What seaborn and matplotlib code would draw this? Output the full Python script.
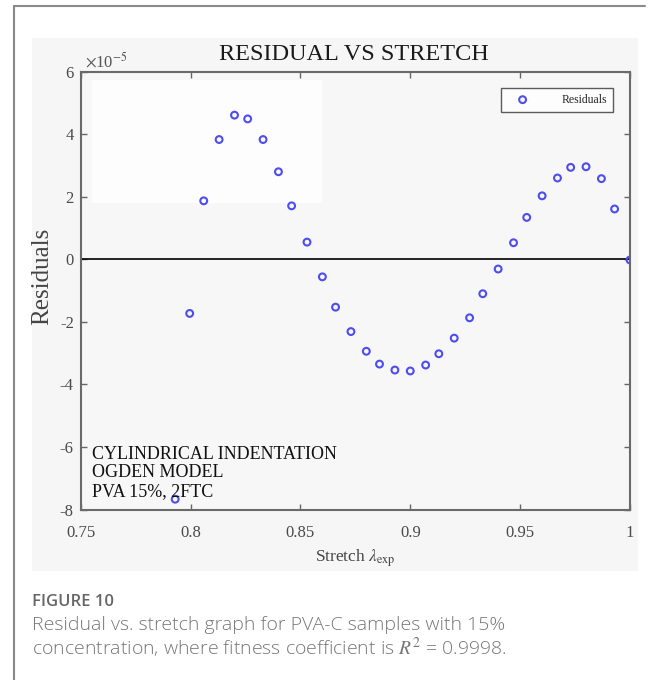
import numpy as np
import pandas as pd
import matplotlib
matplotlib.use("Agg")
import matplotlib.pyplot as plt
import seaborn as sns
from matplotlib.patches import Rectangle
from matplotlib.lines import Line2D
from matplotlib.ticker import FuncFormatter

# stretch values (lambda_exp) and residuals (in units of 1e-5)
stretch = [0.793, 0.7996, 0.806, 0.813, 0.820, 0.826, 0.833, 0.840, 0.846, 0.853,
           0.860, 0.866, 0.873, 0.880, 0.886, 0.893, 0.900, 0.907, 0.913, 0.920,
           0.927, 0.933, 0.940, 0.947, 0.953, 0.960, 0.967, 0.973, 0.980, 0.987,
           0.993, 1.000]
residual_e5 = [-7.67, -1.73, 1.87, 3.83, 4.61, 4.49, 3.83, 2.80, 1.71, 0.55,
               -0.56, -1.53, -2.31, -2.94, -3.35, -3.54, -3.57, -3.38, -3.02, -2.52,
               -1.87, -1.10, -0.31, 0.53, 1.34, 2.03, 2.60, 2.94, 2.96, 2.58,
               1.61, -0.02]
x_ticks = [0.75, 0.8, 0.85, 0.9, 0.95, 1.0]
y_ticks_e5 = [-8, -6, -4, -2, 0, 2, 4, 6]
note_lines = ["CYLINDRICAL INDENTATION", "OGDEN MODEL", "PVA 15%, 2FTC"]

df = pd.DataFrame({"stretch": stretch, "residual": np.array(residual_e5) * 1e-5})

sns.set_style("ticks")
plt.rcParams["font.family"] = ["Liberation Serif", "DejaVu Serif"]
plt.rcParams["mathtext.fontset"] = "stix"
plt.rcParams["axes.unicode_minus"] = False

fig = plt.figure(figsize=(6.55, 6.8), dpi=100, facecolor="white")

# page frame (left + top rule) and grey image background
fig.add_artist(Line2D([0.0214, 0.0214], [0.0, 0.991], transform=fig.transFigure,
                      color="#8a8a8a", lw=1.5))
fig.add_artist(Line2D([0.0214, 0.985], [0.991, 0.991], transform=fig.transFigure,
                      color="#8a8a8a", lw=1.5))
fig.patches.append(Rectangle((0.0489, 0.1603), 0.925, 0.784, transform=fig.transFigure,
                             facecolor="#f6f6f6", edgecolor="none", zorder=-10))

ax = fig.add_axes([0.1232, 0.2507, 0.8386, 0.6439])
ax.set_facecolor("#f7f7f7")

# faint white smudge from the original scan
ax.add_patch(Rectangle((0.02, 0.70), 0.42, 0.28, transform=ax.transAxes,
                       facecolor="#fdfdfd", edgecolor="none", zorder=0))

ax.axhline(0, color="black", lw=1.2, zorder=1)

sns.scatterplot(data=df, x="stretch", y="residual", ax=ax, marker="o", s=24,
                facecolor="none", edgecolor="#4d4df0", linewidth=1.5,
                label="Residuals", zorder=2)

ax.set_xlim(0.75, 1.0)
ax.set_ylim(-8e-5, 6e-5)
ax.set_xticks(x_ticks)
ax.set_yticks(np.array(y_ticks_e5) * 1e-5)
ax.xaxis.set_major_formatter(FuncFormatter(lambda v, p: f"{v:g}"))
ax.yaxis.set_major_formatter(FuncFormatter(lambda v, p: f"{round(v * 1e5):d}"))
ax.text(0.008, 1.0, r"$\times$10$^{\mathrm{-5}}$", transform=ax.transAxes,
        fontsize=12, color="#555555", ha="left", va="bottom")

ax.tick_params(direction="in", length=4, width=1, colors="#666666",
               top=True, right=True, labelsize=12, labelcolor="#4a4a4a")
ax.tick_params(axis="x", pad=11)
ax.tick_params(axis="y", pad=5)
for sp in ax.spines.values():
    sp.set_color("#6a6a6a")
    sp.set_linewidth(1.5)

ax.set_xlabel(r"Stretch $\lambda_{\mathrm{exp}}$", fontsize=12.5, color="#444444",
              labelpad=5)
ax.set_ylabel("Residuals", fontsize=18, color="#444444")
ax.yaxis.set_label_coords(-0.05, 0.532)

leg = ax.legend(loc="upper right", bbox_to_anchor=(0.969, 0.963), fontsize=8.5,
                frameon=True, fancybox=False, borderpad=0.5, handletextpad=2.0,
                handlelength=2.6, borderaxespad=0)
leg.get_frame().set_edgecolor("#333333")
leg.get_frame().set_linewidth(1.0)
leg.get_frame().set_facecolor("white")

ax.text(0.02, 0.145, "\n".join(note_lines), transform=ax.transAxes, fontsize=13,
        color="#111111", va="top", ha="left", linespacing=1.1, zorder=3)

fig.text(354 / 655, 1 - 54 / 680, "RESIDUAL VS STRETCH", ha="center", va="center",
         fontsize=17.5, color="#1a1a1a")

cap = ["Open Sans", "DejaVu Sans"]
fig.text(32 / 655, 1 - 602 / 680, "FIGURE 10", family=cap, fontsize=12,
         fontweight="semibold", color="#666666", va="center", ha="left")
fig.text(32 / 655, 1 - 625 / 680, "Residual vs. stretch graph for PVA-C samples with 15%",
         family=cap, fontsize=14, fontweight="light", color="#777777",
         va="center", ha="left")
fig.text(32 / 655, 1 - 648 / 680,
         r"concentration, where fitness coefficient is $R^2$ = 0.9998.",
         family=cap, fontsize=14, fontweight="light", color="#777777",
         va="center", ha="left")

fig.savefig("out.png", dpi=100, facecolor="white")
